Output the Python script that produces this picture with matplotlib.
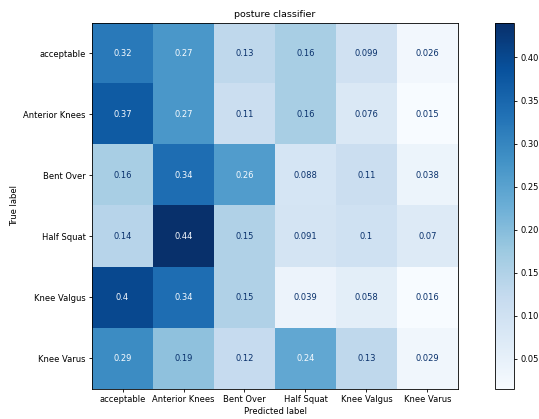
import matplotlib
matplotlib.use("Agg")
import matplotlib.pyplot as plt
import numpy as np

labels = ["acceptable", "Anterior Knees", "Bent Over", "Half Squat", "Knee Valgus", "Knee Varus"]
row_acceptable = [0.32, 0.27, 0.13, 0.16, 0.099, 0.026]
row_anterior = [0.37, 0.27, 0.11, 0.16, 0.076, 0.015]
row_bent = [0.16, 0.34, 0.26, 0.088, 0.11, 0.038]
row_half = [0.14, 0.44, 0.15, 0.091, 0.1, 0.07]
row_valgus = [0.4, 0.34, 0.15, 0.039, 0.058, 0.016]
row_varus = [0.29, 0.19, 0.12, 0.24, 0.13, 0.029]

cm = np.array([row_acceptable, row_anterior, row_bent, row_half, row_valgus, row_varus])

W, H = 539, 419
fig = plt.figure(figsize=(W / 100, H / 100), dpi=100)
fs = 6.0
ax = fig.add_axes([92 / W, (H - 389) / H, 366 / W, 366 / H])
cax = fig.add_axes([495 / W, (H - 389) / H, 19 / W, 366 / H])

cmap = plt.get_cmap("Blues")
im = ax.imshow(cm, cmap=cmap, interpolation="nearest", aspect="auto")
vmin, vmax = cm.min(), cm.max()
thresh = (vmin + vmax) / 2.0
for i in range(cm.shape[0]):
    for j in range(cm.shape[1]):
        v = cm[i, j]
        color = cmap(0.0) if v >= thresh else cmap(1.0)
        ax.text(j, i, format(v, ".2g"), ha="center", va="center", color=color, fontsize=fs)

ax.set_xticks(range(len(labels)))
ax.set_xticklabels(labels, fontsize=fs)
ax.set_yticks(range(len(labels)))
ax.set_yticklabels(labels, fontsize=fs)
ax.set_xlabel("Predicted label", fontsize=fs, labelpad=2)
ax.set_ylabel("True label", fontsize=fs, labelpad=3)
ax.set_title("posture classifier", fontsize=6.8, pad=4)
ax.tick_params(length=2.5, width=0.6, pad=2)
for s in ax.spines.values():
    s.set_linewidth(0.6)

cb = fig.colorbar(im, cax=cax)
cb.ax.tick_params(labelsize=fs, length=2.5, width=0.6, pad=2)
cb.outline.set_linewidth(0.6)

fig.savefig("out.png", dpi=100)
